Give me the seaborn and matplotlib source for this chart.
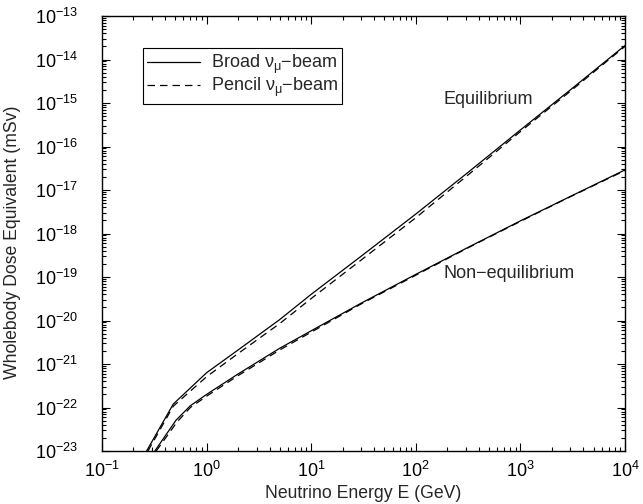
import numpy as np
import pandas as pd
import matplotlib
matplotlib.use("Agg")
import matplotlib.pyplot as plt
import matplotlib.ticker as mticker
import seaborn as sns

# ---- data ----
eq_broad_E = [0.267, 0.48, 1.0, 2.0, 5.0, 10.0, 30.0, 100.0, 300.0, 1000.0, 3000.0, 10000.0]
eq_broad_D = [1e-23, 1.2e-22, 6.3e-22, 2.1e-21, 1.05e-20, 4.0e-20, 3.0e-19, 2.8e-18, 2.3e-17, 2.4e-16, 2.0e-15, 2.1e-14]

eq_pencil_E = [0.275, 0.48, 1.0, 2.0, 5.0, 10.0, 30.0, 100.0, 300.0, 1000.0, 3000.0, 10000.0]
eq_pencil_D = [1e-23, 1.07e-22, 5.1e-22, 1.74e-21, 8.5e-21, 3.2e-20, 2.45e-19, 2.3e-18, 2.0e-17, 2.2e-16, 1.86e-15, 2.0e-14]

neq_broad_E = [0.32, 0.51, 0.7, 1.0, 2.0, 5.0, 10.0, 30.0, 100.0, 300.0, 1000.0, 3000.0, 10000.0]
neq_broad_D = [1e-23, 5.1e-23, 1.1e-22, 2.0e-22, 5.9e-22, 2.3e-21, 5.8e-21, 2.5e-20, 1.15e-19, 4.5e-19, 1.95e-18, 7.1e-18, 2.9e-17]

neq_pencil_E = [0.33, 0.52, 0.7, 1.0, 2.0, 5.0, 10.0, 30.0, 100.0, 300.0, 1000.0, 3000.0, 10000.0]
neq_pencil_D = [1e-23, 4.6e-23, 1.0e-22, 1.82e-22, 5.4e-22, 2.1e-21, 5.4e-21, 2.4e-20, 1.1e-19, 4.4e-19, 1.9e-18, 7.0e-18, 2.8e-17]

x_decades = [-1, 0, 1, 2, 3, 4]
y_decades = [-23, -22, -21, -20, -19, -18, -17, -16, -15, -14, -13]

legend_labels = ["Broad $\\mathregular{\\nu_{\\mu}}$\u2212beam", "Pencil $\\mathregular{\\nu_{\\mu}}$\u2212beam"]
x_label = "Neutrino Energy E (GeV)"
y_label = "Wholebody Dose Equivalent (mSv)"
annot_eq = "Equilibrium"
annot_neq = "Non\u2212equilibrium"

# ---- style ----
sns.set_style("ticks")
plt.rcParams["font.family"] = ["Liberation Sans", "DejaVu Sans"]
plt.rcParams["mathtext.fontset"] = "custom"
plt.rcParams["mathtext.rm"] = "Liberation Sans"
plt.rcParams["mathtext.it"] = "Liberation Sans:italic"
plt.rcParams["mathtext.default"] = "regular"
plt.rcParams["axes.unicode_minus"] = True

fig = plt.figure(figsize=(6.43, 5.04), dpi=100)
ax = fig.add_axes([102 / 643, 53 / 504, 523 / 643, 435 / 504])

series = [
    (eq_broad_E, eq_broad_D, "-", legend_labels[0]),
    (eq_pencil_E, eq_pencil_D, "--", legend_labels[1]),
    (neq_broad_E, neq_broad_D, "-", None),
    (neq_pencil_E, neq_pencil_D, "--", None),
]
for E, D, ls, lab in series:
    df = pd.DataFrame({"E": E, "D": D})
    sns.lineplot(data=df, x="E", y="D", ax=ax, color="black", linewidth=0.9,
                 linestyle=ls, label=lab, legend=False, estimator=None, sort=False)
for ln in ax.get_lines():
    if ln.get_linestyle() == "--":
        ln.set_dashes((6, 4))

ax.set_xscale("log")
ax.set_yscale("log")
ax.set_xlim(10.0 ** x_decades[0], 10.0 ** x_decades[-1])
ax.set_ylim(10.0 ** y_decades[0], 10.0 ** y_decades[-1])

ax.xaxis.set_major_locator(mticker.FixedLocator([10.0 ** d for d in x_decades]))
ax.yaxis.set_major_locator(mticker.FixedLocator([10.0 ** d for d in y_decades]))
ax.xaxis.set_major_formatter(mticker.LogFormatterSciNotation())
ax.yaxis.set_major_formatter(mticker.LogFormatterSciNotation())
ax.xaxis.set_minor_locator(mticker.LogLocator(base=10, subs=np.arange(2, 10), numticks=20))
ax.yaxis.set_minor_locator(mticker.LogLocator(base=10, subs=np.arange(2, 10), numticks=20))
ax.xaxis.set_minor_formatter(mticker.NullFormatter())
ax.yaxis.set_minor_formatter(mticker.NullFormatter())

ax.tick_params(which="both", direction="in", top=True, right=True, width=0.8, colors="black")
ax.tick_params(which="major", length=6, labelsize=13)
ax.tick_params(axis="x", which="major", pad=7)
ax.tick_params(axis="y", which="major", pad=17)
ax.tick_params(which="minor", length=3)
for s in ax.spines.values():
    s.set_linewidth(1.0)
    s.set_color("black")

ax.set_xlabel(x_label, fontsize=12.7)
ax.set_ylabel(y_label, fontsize=12.7)
ax.yaxis.set_label_coords(-0.155, 0.48)
ax.xaxis.set_label_coords(0.5, -0.078)

ax.text(182, 1.2e-15, annot_eq, fontsize=13, ha="left", va="center")
ax.text(182, 1.2e-19, annot_neq, fontsize=13, ha="left", va="center")

h, l = ax.get_legend_handles_labels()
leg = ax.legend(h, l, loc="upper left", bbox_to_anchor=(0.078, 0.926), borderaxespad=0,
                fancybox=False, edgecolor="black", framealpha=1, fontsize=13,
                handlelength=2.9, borderpad=0.25, labelspacing=0.0, handletextpad=0.6)
leg.get_frame().set_linewidth(0.8)

fig.savefig("out.png", dpi=100)
